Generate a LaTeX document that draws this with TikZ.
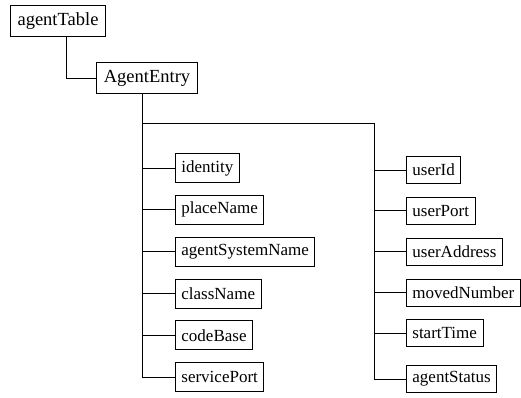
\documentclass[tikz,border=0pt]{standalone}
\usepackage{fontspec}
\setmainfont{Liberation Serif}
\usetikzlibrary{positioning, calc}

\begin{document}
\begin{tikzpicture}[
    x=1pt, y=-1pt,
    every node/.style={font=\fontsize{17}{20}\selectfont},
    top/.style ={draw, line width=0.8pt, inner xsep=7pt, inner ysep=5pt,
                 minimum height=31pt, font=\fontsize{18.5}{22}\selectfont},
    leaf/.style={draw, line width=0.8pt, inner xsep=6pt, inner ysep=4pt,
                 minimum height=29pt, anchor=west},
    link/.style={line width=0.8pt},
]
\useasboundingbox (0,0) rectangle (521,397);
\node[top] (table) at (58,21) {agentTable};
\node[top] (entry) at (147,78) {AgentEntry};
% left column of the entry
\node[leaf] (ident) at (175,168) {identity};
\node[leaf, below right=12pt and 0pt of ident.south west] (place) {placeName};
\node[leaf, below right=12pt and 0pt of place.south west] (asys)  {agentSystemName};
\node[leaf, below right=12pt and 0pt of asys.south west]  (cls)   {className};
\node[leaf, below right=12pt and 0pt of cls.south west]   (code)  {codeBase};
\node[leaf, below right=12pt and 0pt of code.south west]  (svc)   {servicePort};
% right column of the entry
\node[leaf, minimum height=27pt] (uid) at (406,170) {userId};
\node[leaf, minimum height=27pt, below right=13pt and 0pt of uid.south west]   (uport) {userPort};
\node[leaf, minimum height=27pt, below right=13pt and 0pt of uport.south west] (uaddr) {userAddress};
\node[leaf, minimum height=27pt, below right=13pt and 0pt of uaddr.south west] (moved) {movedNumber};
\node[leaf, minimum height=27pt, below right=13pt and 0pt of moved.south west] (start) {startTime};
\node[leaf, minimum height=27pt, below right=18pt and 0pt of start.south west] (stat)  {agentStatus};

\coordinate (split) at (142,123);
\coordinate (rbus)  at (374,123);

\draw[link] ([xshift=8pt]table.south) |- (entry.west);
\draw[link] (entry.south -| split) |- (svc.west);
\draw[link] (split) -- (rbus) |- (stat.west);
% short stubs off the two trunks
\foreach \n in {ident, place, asys, cls, code}
    \draw[link] (\n.west -| split) -- (\n.west);
\foreach \n in {uid, uport, uaddr, moved, start}
    \draw[link] (\n.west -| rbus) -- (\n.west);
\end{tikzpicture}
\end{document}
